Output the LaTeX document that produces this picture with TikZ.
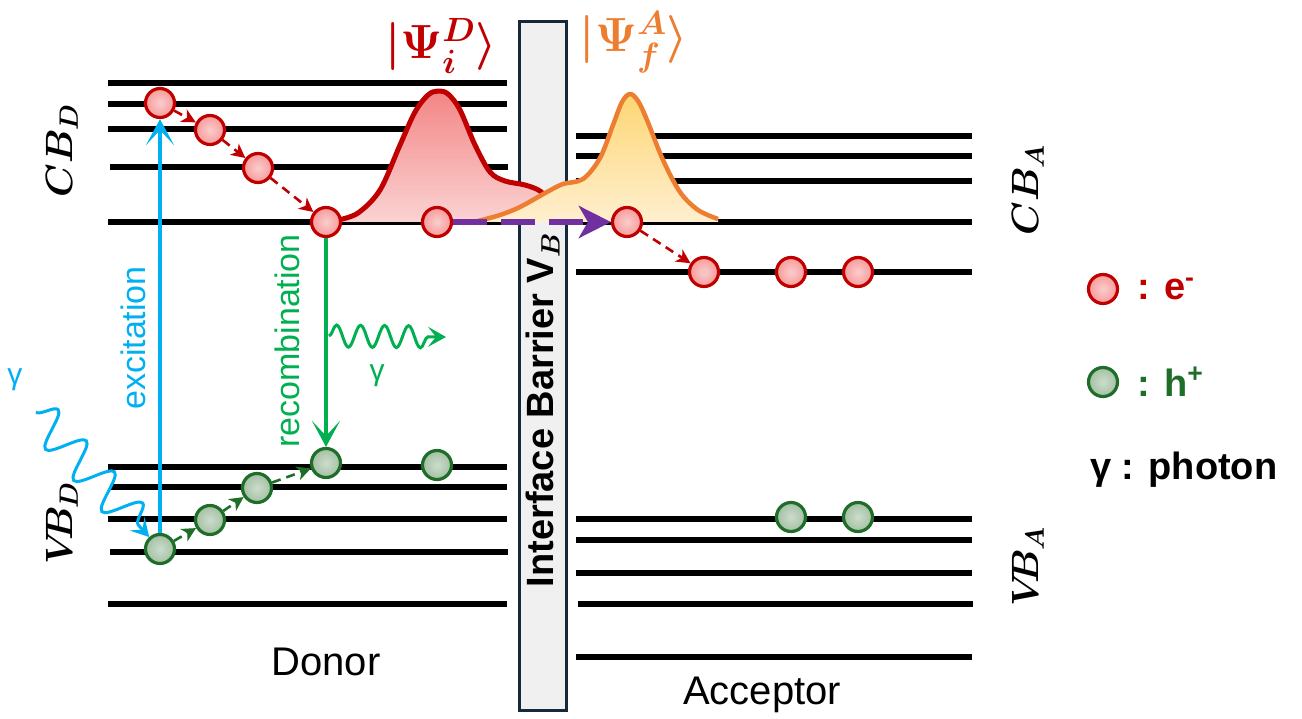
\documentclass[tikz,border=0pt]{standalone}
\usepackage{fix-cm}
\usepackage{amsmath,amssymb}
\usepackage[no-math]{fontspec}
\setmainfont{Liberation Sans}
\usepackage{xcolor}
\usepackage{tikz}
\usetikzlibrary{arrows.meta,positioning,decorations.pathmorphing}
\definecolor{eRed}{HTML}{C00000}
\definecolor{eFill}{HTML}{F79A9A}
\definecolor{hGreen}{HTML}{1E6E2A}
\definecolor{hFill}{HTML}{A3C0A3}
\definecolor{exBlue}{HTML}{00B0F0}
\definecolor{reGreen}{HTML}{00B050}
\definecolor{tunPurple}{HTML}{7030A0}
\definecolor{accOrange}{HTML}{ED7D31}
\definecolor{barEdge}{HTML}{16293A}
\definecolor{psiDtop}{HTML}{F38585}
\definecolor{psiDbot}{HTML}{FBD3D3}
\definecolor{psiAtop}{HTML}{FDD674}
\definecolor{psiAbot}{HTML}{FFEFCF}
\tikzset{
  enlevel/.style={draw=black, line width=6pt},
  elec/.style={circle, draw=eRed, line width=3.2pt, inner color=eFill!50!white,
               outer color=eFill, minimum size=29pt, inner sep=0pt},
  hole/.style={circle, draw=hGreen, line width=3.2pt, inner color=hFill!55!white,
               outer color=hFill, minimum size=29pt, inner sep=0pt},
  edash/.style={draw=eRed, line width=2.6pt, dash pattern=on 9pt off 6pt,
                -{Stealth[length=14pt,width=14pt,inset=4pt]}},
  hdash/.style={draw=hGreen, line width=2.6pt, dash pattern=on 9pt off 6pt,
                -{Stealth[length=14pt,width=14pt,inset=4pt]}},
  photon/.style={line width=3pt, decorate,
                 -{Stealth[length=18pt,width=20pt,inset=8pt]}}
}

\begin{document}
\begin{tikzpicture}[
  x=1pt, y=-1pt,
  exarrow/.style={draw=exBlue, line width=4pt, -{Stealth[length=26pt,width=28pt,inset=15pt]}},
  rearrow/.style={draw=reGreen, line width=4pt, -{Stealth[length=26pt,width=28pt,inset=15pt]}},
  tunnel/.style={draw=tunPurple, line width=6pt, dash pattern=on 34pt off 14pt,
                 -{Stealth[length=32pt,width=32pt,inset=9pt]}},
  barrier/.style={rectangle, draw=barEdge, line width=3pt, fill=gray!12,
                  minimum width=47pt, minimum height=689pt, inner sep=0pt},
  barlbl/.style={rotate=90, font=\fontsize{38}{42}\selectfont\bfseries, inner sep=0pt},
  bandlbl/.style={rotate=90, font=\fontsize{38}{42}\selectfont\boldmath, inner sep=0pt},
  psilbl/.style={font=\fontsize{48}{52}\selectfont\boldmath, inner sep=0pt},
  proclbl/.style={rotate=90, font=\fontsize{34}{38}\selectfont, inner sep=0pt},
  gamlbl/.style={font=\fontsize{30}{34}\selectfont, inner sep=0pt},
  sidelbl/.style={font=\fontsize{40}{44}\selectfont, inner sep=0pt},
  lgtxt/.style={font=\fontsize{38}{42}\selectfont\bfseries, inner sep=0pt}
]
\useasboundingbox (0,0) rectangle (1302,719);
\draw[enlevel] (108,83) -- (507,83) (108,104) -- (507,104) (108,129) -- (507,129)
  (110,167) -- (508,167) (108,222) -- (507,222);
\draw[enlevel] (108,467) -- (507,467) (110,487) -- (507,487) (108,519) -- (507,519)
  (110,552) -- (508,552) (108,604) -- (507,604);
\draw[enlevel] (576,136) -- (972,136) (576,156) -- (972,156) (576,181) -- (972,181)
  (576,222) -- (972,222) (576,272) -- (972,272);
\draw[enlevel] (576,519) -- (972,519) (576,540) -- (972,540) (576,573) -- (972,573)
  (578,604) -- (973,604) (576,657) -- (972,657);
\node[barrier] (bar) at (543,366) {};
\fill[top color=psiDtop, bottom color=psiDbot] plot[smooth, tension=0.55] coordinates {(338,220) (358,213) (380,190) (400,145) (415,112) (428,95) (438,91) (448,94) (460,110) (475,145) (490,172) (505,181) (525,185) (540,191) (552,203)} -- (556,222) -- (338,222) -- cycle;
\draw[eRed, line width=5pt, line join=round] plot[smooth, tension=0.55] coordinates {(338,220) (358,213) (380,190) (400,145) (415,112) (428,95) (438,91) (448,94) (460,110) (475,145) (490,172) (505,181) (525,185) (540,191) (552,203)};
\fill[top color=psiAtop, bottom color=psiAbot] plot[smooth, tension=0.55] coordinates {(478,221) (500,215) (520,207) (547,192) (563,184) (583,179) (600,158) (613,125) (622,102) (630,94) (638,101) (647,120) (663,160) (680,192) (698,210) (718,219)} -- (718,222) -- (478,222) -- cycle;
\draw[accOrange, line width=4.5pt, line join=round] plot[smooth, tension=0.55] coordinates {(478,221) (500,215) (520,207) (547,192) (563,184) (583,179) (600,158) (613,125) (622,102) (630,94) (638,101) (647,120) (663,160) (680,192) (698,210) (718,219)};
\node[barlbl] (bartxt) at (543,410) {Interface Barrier V$_{\boldsymbol{B}}$};
\node[psilbl, text=eRed] (psiD) at (441,46) {$|\Psi_{i}^{D}\rangle$};
\node[psilbl, text=accOrange] (psiA) at (634,42) {$|\Psi_{f}^{A}\rangle$};
\node[bandlbl] (cbD) at (62,151) {$CB_D$};
\node[bandlbl] (vbD) at (62,523) {$V\mkern-5mu B_D$};
\node[bandlbl] (cbA) at (1028,190) {$CB_A$};
\node[bandlbl] (vbA) at (1028,567) {$V\mkern-5mu B_A$};
\node[elec] (e1) at (160,103) {};
\node[elec] (e2) at (210,130) {};
\node[elec] (e3) at (258,168) {};
\node[elec] (e4) at (326,222) {};
\node[elec] (e5) at (437,222) {};
\node[elec] (e6) at (627,222) {};
\node[elec] (e7) at (704,272) {};
\node[elec] (e8) at (791,272) {};
\node[elec] (e9) at (858,272) {};
\node[hole] (h1) at (160,549) {};
\node[hole] (h2) at (210,520) {};
\node[hole] (h3) at (257,488) {};
\node[hole] (h4) at (326,463) {};
\node[hole] (h5) at (437,465) {};
\node[hole] (h6) at (791,517) {};
\node[hole] (h7) at (858,517) {};
\draw[edash] (e1) -- (e2);
\draw[edash] (e2) -- (e3);
\draw[edash] (e3) -- (e4);
\draw[edash] (e6) -- (e7);
\draw[hdash] (h1) -- (h2);
\draw[hdash] (h2) -- (h3);
\draw[hdash] (h3) -- (h4);
\draw[tunnel] (e5) -- (e6);
\draw[exarrow] (h1) -- (e1);
\draw[rearrow] (e4) -- (h4);
\coordinate (gin) at (36,412);
\coordinate (gsrc) at (329,336);
\coordinate (gdst) at (446,337);
\draw[photon, draw=exBlue, decoration={snake, amplitude=18pt, segment length=42pt, post length=14pt}] (gin) -- (h1);
\draw[photon, draw=reGreen, decoration={snake, amplitude=11pt, segment length=24pt, post length=10pt}] (gsrc) -- (gdst);
\node[proclbl, text=exBlue] (exlbl) at (133,338) {excitation};
\node[proclbl, text=reGreen] (relbl) at (287,341) {recombination};
\node[gamlbl, text=exBlue] (ginlbl) at (15,380) {γ};
\node[gamlbl, text=reGreen] (goutlbl) at (377,376) {γ};
\node[sidelbl] (donor) at (326,662) {Donor};
\node[sidelbl] (acceptor) at (762,695) {Acceptor};
\node[elec] (lge) at (1103,289) {};
\node[lgtxt, text=eRed, right=18pt of lge] (lgetxt) {: e\textsuperscript{-}};
\node[hole] (lgh) at (1103,382) {};
\node[lgtxt, text=hGreen, right=18pt of lgh] (lghtxt) {: h\textsuperscript{+}};
\node[lgtxt, anchor=west] (lgg) at (1090,470) {γ : photon};
\end{tikzpicture}
\end{document}
